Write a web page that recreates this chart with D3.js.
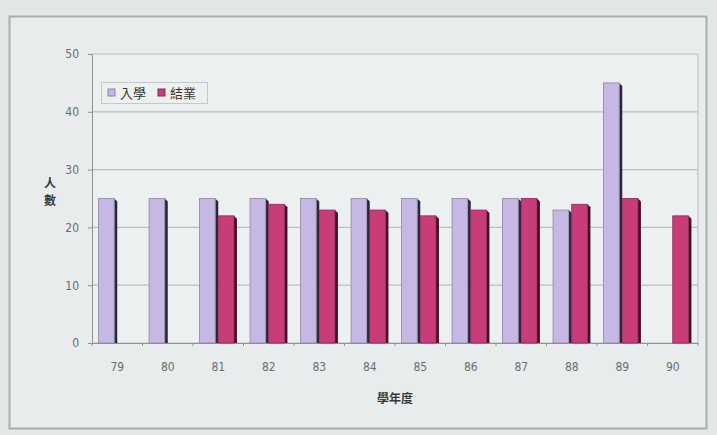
<!DOCTYPE html>
<html><head><meta charset="utf-8">
<script src="https://cdn.jsdelivr.net/npm/d3@7"></script>
<style>
html,body{margin:0;padding:0;background:#e4e8e8;}
svg{display:block;}
</style></head>
<body>
<svg id="c" width="717" height="435"></svg>
<script>
const years = ["79","80","81","82","83","84","85","86","87","88","89","90"];
const enroll = [25,25,25,25,25,25,25,25,25,23,45,null];
const graduate = [null,null,22,24,23,23,22,23,25,24,25,22];
const seriesNames = ["入學","結業"];
const yTicks = [0,10,20,30,40,50];
const yTitle = ["人","數"];
const xTitle = "學年度";

const svg = d3.select("#c");
const W = 717, H = 435;
const m = {left:92, right:19, top:54, bottom:92};
const iw = W - m.left - m.right, ih = H - m.top - m.bottom;

// outer frame
svg.append("rect").attr("x",0).attr("y",0).attr("width",W).attr("height",H).attr("fill","#e3e7e7");
svg.append("rect").attr("x",9.5).attr("y",16.5).attr("width",697).attr("height",412)
  .attr("fill","#e9ecec").attr("stroke","#a9adad").attr("stroke-width",2);

const x = d3.scaleBand().domain(years).range([m.left, m.left+iw]).paddingInner(0.26).paddingOuter(0.13);
const x1 = d3.scaleBand().domain(seriesNames).range([0, x.bandwidth()]).padding(0);
const y = d3.scaleLinear().domain([0,50]).range([m.top+ih, m.top]);

// plot background
svg.append("rect").attr("x",m.left).attr("y",m.top).attr("width",iw).attr("height",ih).attr("fill","#edf0f0");

// grid
svg.append("g").selectAll("line").data(yTicks).join("line")
  .attr("x1",m.left).attr("x2",m.left+iw).attr("y1",d=>y(d)).attr("y2",d=>y(d))
  .attr("stroke","#b9bdbd").attr("stroke-width",1.2);
// right border
svg.append("line").attr("x1",m.left+iw).attr("x2",m.left+iw).attr("y1",m.top).attr("y2",m.top+ih)
  .attr("stroke","#c2c6c6").attr("stroke-width",1.2);

// y axis
const ya = svg.append("g").attr("transform",`translate(${m.left},0)`)
  .call(d3.axisLeft(y).tickValues(yTicks).tickSize(4).tickPadding(9));
ya.select(".domain").attr("stroke","#8f9393");
ya.selectAll(".tick line").attr("stroke","#8f9393");
ya.selectAll("text").attr("font-family","'Liberation Sans Narrow','DejaVu Sans Condensed',sans-serif")
  .attr("font-size",12).attr("fill","#6a6e6e");

// x axis
const xa = svg.append("g").attr("transform",`translate(0,${m.top+ih})`)
  .call(d3.axisBottom(x).tickSize(0).tickPadding(19));
xa.select(".domain").attr("stroke","#8f9393");
xa.selectAll("text").attr("font-family","'Liberation Sans Narrow','DejaVu Sans Condensed',sans-serif")
  .attr("font-size",12).attr("fill","#6a6e6e");
// small separators
const step = x.step();
svg.append("g").selectAll("line").data(d3.range(years.length+1)).join("line")
  .attr("x1",(d)=>m.left + d*iw/years.length).attr("x2",(d)=>m.left + d*iw/years.length)
  .attr("y1",m.top+ih).attr("y2",m.top+ih+3).attr("stroke","#8f9393");

const colors = {"入學":"#c6b7e5","結業":"#c83c7a"};
const shade = {"入學":"#2c2438","結業":"#4a0f28"};
const strokeC = {"入學":"#8d86a0","結業":"#8a2a55"};
const data = [];
years.forEach((yr,i)=>{
  if (enroll[i]!=null) data.push({yr, s:"入學", v:enroll[i]});
  if (graduate[i]!=null) data.push({yr, s:"結業", v:graduate[i]});
});
const bw = x1.bandwidth();
const sh = 3;
const g = svg.append("g");
// shadow
g.selectAll("path.sh").data(data).join("path").attr("class","sh")
  .attr("d",d=>{
    const x0 = x(d.yr)+x1(d.s)+bw-sh, t = y(d.v), b = y(0);
    return `M${x0},${t} L${x0+sh},${t+sh} L${x0+sh},${b} L${x0},${b} Z`;
  }).attr("fill",d=>shade[d.s]);
g.selectAll("rect.bar").data(data).join("rect").attr("class","bar")
  .attr("x",d=>x(d.yr)+x1(d.s)).attr("y",d=>y(d.v))
  .attr("width",bw-sh).attr("height",d=>y(0)-y(d.v))
  .attr("fill",d=>colors[d.s]).attr("stroke",d=>strokeC[d.s]).attr("stroke-width",0.8);

// legend
const lg = svg.append("g");
lg.append("rect").attr("x",101.5).attr("y",82.5).attr("width",106).attr("height",21)
  .attr("fill","#eef0f0").attr("stroke","#c4c8c8");
const items = [{s:"入學",x:108},{s:"結業",x:158}];
items.forEach(it=>{
  lg.append("rect").attr("x",it.x).attr("y",89).attr("width",7).attr("height",7)
    .attr("fill",colors[it.s]).attr("stroke",strokeC[it.s]);
  lg.append("text").attr("x",it.x+12).attr("y",98).text(it.s)
    .attr("font-family","'Noto Sans CJK TC',sans-serif").attr("font-size",13).attr("fill","#333");
});

// y title
yTitle.forEach((t,i)=>{
  svg.append("text").attr("x",50).attr("y",188+i*17).attr("text-anchor","middle").text(t)
    .attr("font-family","'Noto Sans CJK TC',sans-serif").attr("font-size",12).attr("font-weight","bold").attr("fill","#3a3a3a");
});
// x title
svg.append("text").attr("x",395).attr("y",403).attr("text-anchor","middle").text(xTitle)
  .attr("font-family","'Noto Sans CJK TC',sans-serif").attr("font-size",12).attr("font-weight","bold").attr("fill","#3a3a3a");
</script>
</body></html>
